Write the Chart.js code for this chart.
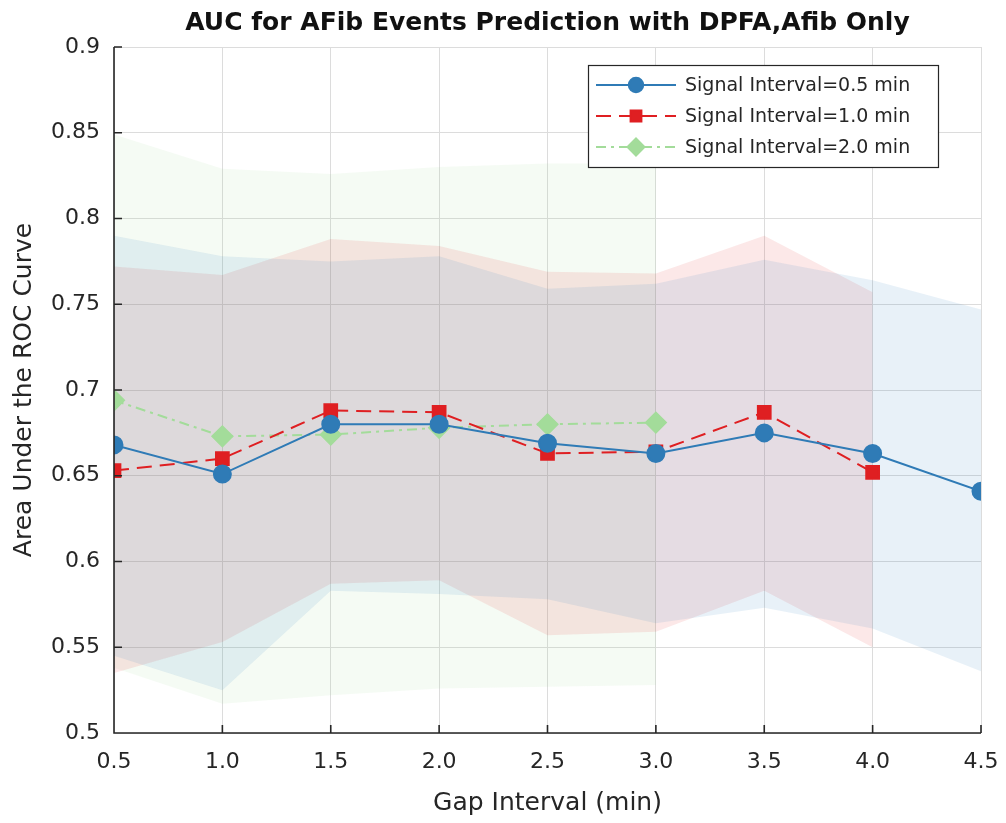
<!DOCTYPE html>
<html>
<head>
<meta charset="utf-8">
<script src="https://cdn.jsdelivr.net/npm/chart.js@4.4.1/dist/chart.umd.min.js"></script>
<style>
  html, body { margin: 0; padding: 0; background: #fff; }
  #wrap { width: 1006px; height: 823px; }
</style>
</head>
<body>
<div id="wrap"><canvas id="auc"></canvas></div>
<script>
// gap intervals (min)
var gaps = [0.5, 1.0, 1.5, 2.0, 2.5, 3.0, 3.5, 4.0, 4.5];

// signal interval 0.5 min
var auc05 = [0.668, 0.651, 0.680, 0.680, 0.669, 0.663, 0.675, 0.663, 0.641];
var hi05  = [0.790, 0.778, 0.775, 0.778, 0.759, 0.762, 0.776, 0.764, 0.747];
var lo05  = [0.545, 0.525, 0.583, 0.581, 0.578, 0.564, 0.573, 0.561, 0.536];

// signal interval 1.0 min
var auc10 = [0.653, 0.660, 0.688, 0.687, 0.663, 0.664, 0.687, 0.652];
var hi10  = [0.772, 0.767, 0.788, 0.784, 0.769, 0.768, 0.790, 0.757];
var lo10  = [0.535, 0.553, 0.587, 0.589, 0.557, 0.559, 0.583, 0.550];

// signal interval 2.0 min
var auc20 = [0.694, 0.673, 0.674, 0.678, 0.680, 0.681];
var hi20  = [0.849, 0.829, 0.826, 0.830, 0.832, 0.832];
var lo20  = [0.538, 0.517, 0.522, 0.526, 0.527, 0.528];

var yTicks = [0.5, 0.55, 0.6, 0.65, 0.7, 0.75, 0.8, 0.85, 0.9];

var titleText = 'AUC for AFib Events Prediction with DPFA,Afib Only';

var FONT = '"DejaVu Sans", Verdana, sans-serif';
var INK = '#262626';

function pts(vals) {
  return vals.map(function (v, i) { return { x: gaps[i], y: v }; });
}

function band(lo, hi, color, order) {
  return [
    { data: pts(lo), borderWidth: 0, pointRadius: 0, fill: false, order: order },
    { data: pts(hi), borderWidth: 0, pointRadius: 0, fill: '-1', backgroundColor: color, order: order }
  ];
}

var blue = '#2f7bb6', red = '#df1f22', green = '#a3dc9a';

var datasets = []
  .concat(band(lo20, hi20, 'rgba(161,217,155,0.11)', 10))
  .concat(band(lo10, hi10, 'rgba(227,26,28,0.10)', 9))
  .concat(band(lo05, hi05, 'rgba(49,130,189,0.11)', 8))
  .concat([
    { label: 'Signal Interval=2.0 min', data: pts(auc20), borderColor: green, backgroundColor: green,
      borderWidth: 2, borderDash: [10, 5, 3, 5], pointStyle: 'rectRot', pointRadius: 10, order: 3 },
    { label: 'Signal Interval=1.0 min', data: pts(auc10), borderColor: red, backgroundColor: red,
      borderWidth: 2, borderDash: [15, 8], pointStyle: 'rect', pointRadius: 9, order: 2 },
    { label: 'Signal Interval=0.5 min', data: pts(auc05), borderColor: blue, backgroundColor: blue,
      borderWidth: 2, pointStyle: 'circle', pointRadius: 8.5, order: 1 }
  ]);

// left/bottom axis lines with inward tick marks, title centred over the plot
var axes = {
  id: 'axes',
  afterDraw: function (chart) {
    var c = chart.ctx, a = chart.chartArea, xs = chart.scales.x, ys = chart.scales.y;
    c.save();
    c.strokeStyle = INK;
    c.lineWidth = 1.6;
    c.beginPath();
    c.moveTo(a.left, a.top); c.lineTo(a.left, a.bottom); c.lineTo(a.right, a.bottom);
    gaps.forEach(function (g) {
      var px = xs.getPixelForValue(g);
      c.moveTo(px, a.bottom); c.lineTo(px, a.bottom - 8);
    });
    yTicks.forEach(function (t) {
      var py = ys.getPixelForValue(t);
      c.moveTo(a.left, py); c.lineTo(a.left + 8, py);
    });
    c.stroke();

    c.fillStyle = '#111';
    c.font = 'bold 25px ' + FONT;
    c.textAlign = 'center';
    c.textBaseline = 'middle';
    c.fillText(titleText, (a.left + a.right) / 2, 23);
    c.restore();
  }
};

// legend box drawn inside the plot area
var boxLegend = {
  id: 'boxLegend',
  afterDraw: function (chart) {
    var c = chart.ctx;
    var items = chart.data.datasets.filter(function (d) { return d.label; }).slice().reverse();
    var x0 = 588, y0 = 65, w = 350, h = 102;
    c.save();
    c.fillStyle = '#fff';
    c.fillRect(x0, y0, w, h);
    c.strokeStyle = INK;
    c.lineWidth = 1.2;
    c.strokeRect(x0 + 0.5, y0 + 0.5, w, h);
    c.font = '19px ' + FONT;
    c.textBaseline = 'middle';
    items.forEach(function (d, i) {
      var y = y0 + 20 + i * 31;
      c.strokeStyle = d.borderColor;
      c.lineWidth = 2;
      c.setLineDash(d.borderDash || []);
      c.beginPath();
      c.moveTo(x0 + 8, y); c.lineTo(x0 + 88, y);
      c.stroke();
      c.setLineDash([]);
      c.fillStyle = d.backgroundColor;
      c.strokeStyle = d.backgroundColor;
      Chart.helpers.drawPoint(c, { pointStyle: d.pointStyle, radius: d.pointRadius * 0.85, borderWidth: 1 }, x0 + 48, y);
      c.fillStyle = INK;
      c.fillText(d.label, x0 + 97, y + 1);
    });
    c.restore();
  }
};

var ctx = document.getElementById('auc').getContext('2d');

var myChart = new Chart(ctx, {
  type: 'line',
  data: { datasets: datasets },
  options: {
    responsive: true,
    maintainAspectRatio: false,
    animation: false,
    layout: { padding: { left: 0, right: 25, top: 47, bottom: 0 } },
    plugins: {
      legend: { display: false },
      tooltip: { enabled: false },
      title: { display: false },
      filler: { propagate: false }
    },
    scales: {
      x: {
        type: 'linear', min: 0.5, max: 4.5,
        afterBuildTicks: function (s) { s.ticks = gaps.map(function (v) { return { value: v }; }); },
        afterFit: function (s) { s.height = 90; s.paddingLeft = 0; s.paddingRight = 0; },
        ticks: {
          color: INK,
          font: { family: FONT, size: 22 },
          padding: 16,
          callback: function (v) { return v.toFixed(1); }
        },
        grid: { color: '#dcdcdc', lineWidth: 1, tickLength: 0 },
        border: { display: false },
        title: {
          display: true, text: 'Gap Interval (min)', color: INK,
          font: { family: FONT, size: 25 },
          padding: { top: 0, bottom: 5 }
        }
      },
      y: {
        min: 0.5, max: 0.9,
        afterBuildTicks: function (s) { s.ticks = yTicks.map(function (v) { return { value: v }; }); },
        afterFit: function (s) { s.width = 114; s.paddingTop = 0; s.paddingBottom = 0; },
        ticks: {
          color: INK,
          font: { family: FONT, size: 22 },
          padding: 14,
          callback: function (v) { return String(v); }
        },
        grid: { color: '#dcdcdc', lineWidth: 1, tickLength: 0 },
        border: { display: false },
        title: {
          display: true, text: 'Area Under the ROC Curve', color: INK,
          font: { family: FONT, size: 25 },
          padding: { top: 9, bottom: 0 }
        }
      }
    }
  },
  plugins: [axes, boxLegend]
});
</script>
</body>
</html>
